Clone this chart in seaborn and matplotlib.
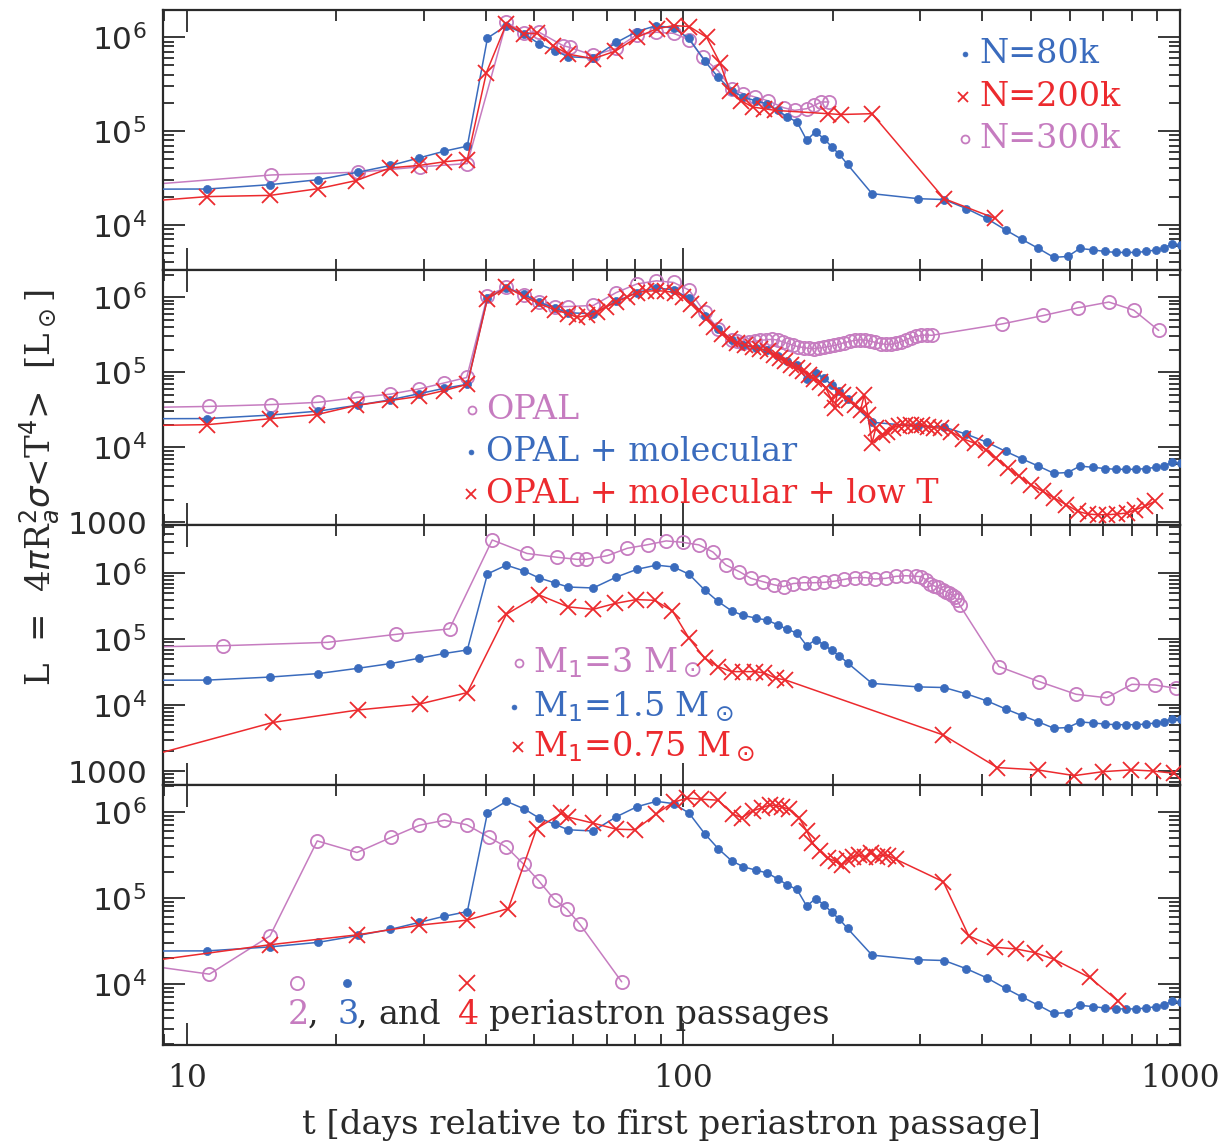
import numpy as np
import matplotlib
matplotlib.use("Agg")
import matplotlib.pyplot as plt
import seaborn as sns
from matplotlib.ticker import FixedLocator, LogLocator, FuncFormatter, NullFormatter

sns.set_style("ticks")
plt.rcParams["font.family"] = ["DejaVu Serif"]
plt.rcParams["mathtext.fontset"] = "dejavuserif"

BLUE = "#3a6bbd"
RED = "#ec2a2e"
PURPLE = "#c67cc0"
DARK = "#2a2a2a"

# ---------------- data (t in days, L in Lsun) ----------------
# reference run: N=80k, OPAL+molecular, M1=1.5 Msun, 3 periastron passages
ref_t = [8.5, 11.0, 14.7, 18.4, 22.1, 25.7, 29.4, 33.0, 36.7, 40.3, 44.0, 47.7, 51.2, 55.0, 58.6,
         65.8, 73.3, 80.6, 88.2, 95.5, 102.6, 110.3, 117.4, 125, 131.9, 139.9, 147.3, 154.9, 161.9,
         169.3, 177.1, 184.5, 191.8, 198.8, 206, 214, 239.7, 297, 335, 371.5, 408, 445.6, 481,
         518.6, 557, 594, 628.7, 669, 706, 742, 778, 816.6, 855, 894, 927, 964, 1004]
ref_L = [2.4e4, 2.41e4, 2.68e4, 3.03e4, 3.64e4, 4.29e4, 5.18e4, 6.1e4, 6.9e4, 9.8e5, 1.33e6, 1.09e6,
         8.5e5, 7.2e5, 6.2e5, 6.0e5, 8.8e5, 1.15e6, 1.33e6, 1.25e6, 9.7e5, 5.6e5, 3.75e5, 2.7e5,
         2.3e5, 2.1e5, 1.95e5, 1.66e5, 1.41e5, 1.25e5, 8.0e4, 9.8e4, 8.3e4, 6.8e4, 5.65e4, 4.4e4,
         2.15e4, 1.9e4, 1.86e4, 1.49e4, 1.17e4, 8.8e3, 6.98e3, 5.6e3, 4.5e3, 4.6e3, 5.6e3, 5.4e3,
         5.2e3, 5.08e3, 5.08e3, 5.08e3, 5.2e3, 5.4e3, 5.6e3, 6.3e3, 6.1e3]

# panel 1: resolution
n200_t = [8.5, 11.0, 14.7, 18.4, 21.9, 25.7, 29.4, 33.0, 36.7, 40.1, 44.0, 47.7, 50.8, 54.6, 58.6,
          65.8, 72.9, 80.7, 88.3, 95.6, 102.7, 111.3, 118.5, 123.9, 130.7, 137.9, 145.4, 153,
          195.3, 207.2, 239.7, 335, 424.6]
n200_L = [1.8e4, 2.0e4, 2.06e4, 2.43e4, 2.96e4, 4.05e4, 4.3e4, 4.7e4, 4.97e4, 4.2e5, 1.39e6, 1.09e6,
          1.1e6, 8.15e5, 6.6e5, 5.9e5, 7.1e5, 1.0e6, 1.23e6, 1.33e6, 1.3e6, 1.0e6, 5.3e5, 2.7e5,
          2.1e5, 1.8e5, 1.73e5, 1.66e5, 1.53e5, 1.5e5, 1.53e5, 1.9e4, 1.17e4]
n300_t = [8.5, 14.8, 22.1, 29.5, 36.7, 44.0, 47.7, 51.2, 57.3, 59.0, 65.8, 73.2, 80.5, 88.2, 95.5,
          102.7, 109.3, 117.4, 125, 131.9, 139.5, 148, 159.2, 167.5, 177, 183.5, 189.5, 196.3]
n300_L = [2.7e4, 3.4e4, 3.64e4, 4.15e4, 4.5e4, 1.45e6, 1.1e6, 1.13e6, 8.1e5, 7.8e5, 6.4e5, 7.6e5,
          1.06e6, 1.13e6, 1.1e6, 9.4e5, 6.1e5, 4.4e5, 2.8e5, 2.5e5, 2.3e5, 2.1e5, 1.77e5, 1.66e5,
          1.73e5, 1.88e5, 2.04e5, 2.04e5]

# panel 2: opacities
opal_t = [8.5, 11.1, 14.8, 18.4, 22.0, 25.7, 29.4, 33.0, 36.6, 40.3, 44.0, 47.7, 51.2, 55.0, 58.6,
          65.8, 73.2, 80.6, 88.2, 95.5, 102.7, 110.3, 117.4,
          125.0, 128.4, 131.9, 135.5, 139.1, 142.9, 146.8, 150.8, 154.9, 158.5, 162.5, 166.3, 170.2,
          174.5, 178.6, 182.8, 187.5, 191.9, 196.3, 201.3, 206.1, 210.9, 216.3, 221.3, 226.5, 232.3,
          237.7, 243.2, 249.4, 255.3, 261.2, 267.9, 274.2, 280.6, 287.7, 294.4, 301.3, 309.0, 316.2,
          438.5, 530.8, 623, 719, 807, 906]
opal_L = [3.4e4, 3.5e4, 3.7e4, 3.97e4, 4.6e4, 5.1e4, 6.0e4, 7.2e4, 8.5e4, 1.05e6, 1.36e6, 1.08e6,
          8.6e5, 7.4e5, 7.5e5, 7.75e5, 1.15e6, 1.5e6, 1.65e6, 1.57e6, 1.24e6, 6.3e5, 3.8e5,
          2.66e5, 2.57e5, 2.48e5, 2.53e5, 2.57e5, 2.66e5, 2.7e5, 2.74e5, 2.68e5, 2.53e5, 2.4e5,
          2.28e5, 2.19e5, 2.13e5, 2.08e5, 2.06e5, 2.1e5, 2.15e5, 2.21e5, 2.28e5, 2.37e5, 2.48e5,
          2.57e5, 2.66e5, 2.7e5, 2.68e5, 2.6e5, 2.5e5, 2.4e5, 2.35e5, 2.35e5, 2.43e5, 2.55e5, 2.7e5,
          2.88e5, 3.0e5, 3.1e5, 3.13e5, 3.1e5,
          4.4e5, 5.7e5, 7.2e5, 8.6e5, 6.7e5, 3.6e5]
lowT_t = [8.5, 11.0, 14.7, 18.3, 21.9, 25.7, 29.4, 33.0, 36.7, 40.3, 44.0, 47.7, 51.2, 55.0, 58.6,
          61.0, 64.0, 67.0, 69.7, 73.3, 76.9, 80.6, 84.2, 88.2, 92.0, 96.0, 100.0, 103.6, 107.4,
          111.3, 115.3, 119.5, 123.9, 128.4, 133.0, 137.9, 142.9, 148.1, 152.0, 156.3, 160.5, 164.8,
          169.3, 173.9, 178.6, 183.5, 188.5, 193.6, 198.9, 201.5, 204.3, 209.7, 215.4, 221.3, 227.3,
          231.3, 235.3, 239.7, 243.9, 250.6, 257.4, 264.4, 271.6, 279.0, 286.6, 294.4, 302.4, 310.6,
          319.1, 330.6, 346.2, 365.5, 385.9, 407.4, 426.2, 449.8, 474.8, 501.3, 529.2, 558.6, 589.7,
          622.5, 651.7, 682.3, 714.3, 747.8, 782.9, 811.9, 849.6, 888.8]
lowT_L = [1.95e4, 2.0e4, 2.4e4, 2.73e4, 3.6e4, 4.2e4, 4.77e4, 5.7e4, 6.9e4, 9.5e5, 1.36e6, 1.02e6,
          8.2e5, 6.8e5, 6.0e5, 5.4e5, 5.7e5, 6.3e5, 7.4e5, 8.6e5, 1.0e6, 1.15e6, 1.2e6, 1.22e6,
          1.2e6, 1.15e6, 1.02e6, 8.2e5, 6.7e5, 5.2e5, 4.0e5, 3.26e5, 2.8e5, 2.48e5, 2.33e5, 2.17e5,
          2.06e5, 1.9e5, 1.72e5, 1.55e5, 1.4e5, 1.24e5, 1.12e5, 1.03e5, 9.3e4, 8.2e4, 7.4e4, 6.1e4,
          4.25e4, 3.3e4, 5.5e4, 5.0e4, 4.25e4, 3.65e4, 3.1e4, 5.0e4, 2.68e4, 1.13e4, 1.79e4, 1.46e4,
          1.61e4, 1.82e4, 1.94e4, 1.98e4, 1.98e4, 1.94e4, 1.98e4, 1.88e4, 1.82e4, 1.79e4, 1.61e4,
          1.3e4, 1.13e4, 9.2e3, 7.1e3, 5.3e3, 4.1e3, 3.16e3, 2.58e3, 2.1e3, 1.72e3, 1.4e3, 1.29e3,
          1.26e3, 1.26e3, 1.29e3, 1.33e3, 1.47e3, 1.63e3, 1.9e3]

# panel 3: primary mass
m3_t = [8.5, 11.8, 19.2, 26.4, 33.8, 41.2, 48.4, 55.7, 61.0, 63.5, 70.1, 77.1, 84.8, 92.3, 99.6,
        107.4, 114.7, 121.7, 129.6, 136.7, 144.3, 152.2, 159.2, 166.3, 174.5, 182.8, 191.9, 201.3,
        210.9, 221.3, 232.3, 243.2, 255.3, 267.9, 280.6, 294.4, 301.3, 308, 314, 319, 326, 333,
        338, 342, 347, 351.5, 356, 360, 432, 521, 617.6, 712, 800, 891, 982]
m3_L = [7.7e4, 8.0e4, 9.0e4, 1.19e5, 1.44e5, 3.2e6, 2.0e6, 1.75e6, 1.63e6, 1.63e6, 1.84e6, 2.4e6,
        2.72e6, 3.1e6, 2.95e6, 2.7e6, 2.1e6, 1.34e6, 1.06e6, 8.4e5, 7.5e5, 6.7e5, 6.3e5, 7.0e5,
        7.2e5, 7.2e5, 7.3e5, 7.6e5, 8.1e5, 8.6e5, 8.6e5, 8.2e5, 8.4e5, 9.0e5, 9.2e5, 9.0e5, 8.9e5,
        8.0e5, 7.0e5, 6.5e5, 6.1e5, 5.6e5, 5.3e5, 5.0e5, 4.7e5, 4.4e5, 3.9e5, 3.3e5, 3.86e4, 2.28e4,
        1.47e4, 1.3e4, 2.08e4, 2.03e4, 1.81e4]
m075_t = [8.5, 14.9, 22.1, 29.5, 36.7, 44.0, 51.2, 58.6, 65.8, 72.9, 80.3, 87.5, 95.0, 102.5, 110.3,
          117.4, 125, 131.9, 139.1, 145.4, 153.5, 160.5, 333.6, 428.5, 516.6, 612.6, 699.7, 797,
          883, 973]
m075_L = [1.75e3, 5.5e3, 8.5e3, 1.05e4, 1.56e4, 2.4e5, 4.7e5, 3.1e5, 2.85e5, 3.5e5, 4.0e5, 3.9e5,
          2.7e5, 1.05e5, 5.2e4, 3.86e4, 3.24e4, 3.24e4, 3.24e4, 3.1e4, 2.57e4, 2.42e4, 3.55e3,
          1.14e3, 1.05e3, 860, 988, 1.05e3, 1.01e3, 933]

# panel 4: number of periastron passages
p2_t = [8.5, 11.1, 14.7, 18.3, 22.0, 25.8, 29.4, 33.0, 36.6, 40.5, 44.0, 47.7, 51.2, 55.0, 58.2,
        61.9, 75.1]
p2_L = [1.6e4, 1.29e4, 3.6e4, 4.6e5, 3.37e5, 5.07e5, 7.0e5, 8.0e5, 7.1e5, 5.1e5, 3.9e5, 2.45e5,
        1.56e5, 9.5e4, 7.4e4, 4.9e4, 1.05e4]
p4_t = [8.5, 14.7, 22.0, 29.4, 36.7, 44.4, 50.6, 56.8, 58.6, 65.8, 73.2, 80.0, 88.2, 95.5, 101.8,
        108.4, 117.4, 125.9, 131.1, 137.9, 144.1, 149.4, 153.5, 157.6, 163.3, 170.9, 177.1, 181.9,
        188.5, 195.3, 202.6, 208.2, 213.9, 219.8, 225.8, 232, 238.4, 245, 251.8, 258.7, 268.1,
        333.6, 375.4, 424.6, 467, 510, 556.5, 657.7, 751]
p4_L = [1.85e4, 2.84e4, 3.7e4, 4.8e4, 5.5e4, 7.5e4, 6.4e5, 9.6e5, 8.7e5, 7.4e5, 6.3e5, 6.2e5, 9.5e5,
        1.3e6, 1.45e6, 1.41e6, 1.37e6, 9.4e5, 8.6e5, 1.03e6, 1.12e6, 1.21e6, 1.18e6, 1.15e6,
        1.07e6, 8.6e5, 6.0e5, 4.35e5, 3.5e5, 2.9e5, 2.65e5, 2.4e5, 2.8e5, 3.0e5, 3.15e5, 3.0e5,
        3.3e5, 3.0e5, 3.15e5, 3.1e5, 2.8e5, 1.54e5, 3.6e4, 2.65e4, 2.54e4, 2.3e4, 1.93e4, 1.18e4,
        6.25e3]

x_ticks = [10, 100, 1000]
x_tick_labels = ["10", "100", "1000"]
y_limits = [(3.3e3, 1.95e6), (920, 2.3e6), (620, 5.4e6), (1.93e3, 2.06e6)]
y_ticks = [[1e4, 1e5, 1e6], [1e3, 1e4, 1e5, 1e6], [1e3, 1e4, 1e5, 1e6], [1e4, 1e5, 1e6]]

# ---------------- figure ----------------
W, H = 1228, 1144
fig = plt.figure(figsize=(W / 100, H / 100), dpi=100)
left, right = 163, 1180
edges = [10, 270, 525, 785, 1045]

STYLE = {
    "dot": dict(color=BLUE, marker="o", markersize=5.8, markerfacecolor=BLUE,
                markeredgecolor=BLUE, markeredgewidth=0.5),
    "x": dict(color=RED, marker="x", markersize=11, markeredgecolor=RED, markeredgewidth=1.3),
    "o": dict(color=PURPLE, marker="o", markersize=9.5, markerfacecolor="none",
              markeredgecolor=PURPLE, markeredgewidth=1.3),
}


def ylab(v, pos):
    if v == 1000:
        return r"$\mathdefault{1000}$"
    e = int(round(np.log10(v)))
    return r"$\mathdefault{10^{%d}}$" % e


axes = []
for i in range(4):
    ax = fig.add_axes([left / W, 1 - edges[i + 1] / H, (right - left) / W,
                       (edges[i + 1] - edges[i]) / H])
    ax.set_xscale("log")
    ax.set_yscale("log")
    axes.append(ax)


def draw(ax, t, L, kind, z):
    sns.lineplot(x=t, y=L, ax=ax, sort=False, estimator=None, lw=1.1, zorder=z,
                 legend=False, **STYLE[kind])


draw(axes[0], ref_t, ref_L, "dot", 3)
draw(axes[0], n200_t, n200_L, "x", 4)
draw(axes[0], n300_t, n300_L, "o", 2)

draw(axes[1], opal_t, opal_L, "o", 2)
draw(axes[1], ref_t, ref_L, "dot", 3)
draw(axes[1], lowT_t, lowT_L, "x", 4)

draw(axes[2], m3_t, m3_L, "o", 2)
draw(axes[2], ref_t, ref_L, "dot", 3)
draw(axes[2], m075_t, m075_L, "x", 4)

draw(axes[3], p2_t, p2_L, "o", 2)
draw(axes[3], ref_t, ref_L, "dot", 3)
draw(axes[3], p4_t, p4_L, "x", 4)

TICK_FS = 22.5
for i, ax in enumerate(axes):
    ax.set_xlim(8.95, 1000)
    ax.set_ylim(*y_limits[i])
    ax.set_xlabel("")
    ax.set_ylabel("")
    ax.xaxis.set_major_locator(FixedLocator(x_ticks))
    ax.xaxis.set_minor_locator(LogLocator(base=10, subs=np.arange(2, 10)))
    ax.xaxis.set_minor_formatter(NullFormatter())
    ax.yaxis.set_major_locator(FixedLocator(y_ticks[i]))
    ax.yaxis.set_minor_locator(LogLocator(base=10, subs=np.arange(2, 10), numticks=20))
    ax.yaxis.set_minor_formatter(NullFormatter())
    ax.tick_params(which="both", direction="in", top=True, right=True, width=1.3, color=DARK)
    ax.tick_params(which="major", length=16)
    ax.tick_params(which="minor", length=8)
    ax.tick_params(axis="y", which="major", pad=12, labelsize=TICK_FS, labelcolor=DARK)
    if i < 3:
        ax.tick_params(axis="x", labelbottom=False)
    else:
        ax.set_xticklabels(x_tick_labels)
        ax.tick_params(axis="x", which="major", pad=13, labelsize=TICK_FS, labelcolor=DARK)
    for s in ax.spines.values():
        s.set_linewidth(1.6)
        s.set_color(DARK)

plt.rcParams["mathtext.fontset"] = "dejavusans"
for ax in axes:
    ax.yaxis.set_major_formatter(FuncFormatter(ylab))
    for lab in ax.get_yticklabels():
        lab.set_family("DejaVu Sans")

FS = 24


def legend_row(ax, mx, tx, y, kind, text, color, ms_scale=0.6):
    st = dict(STYLE[kind])
    st.pop("color")
    st["markersize"] = st["markersize"] * ms_scale
    ax.plot([mx], [y], transform=ax.transAxes, linestyle="none", clip_on=False, **st)
    ax.text(tx, y, text, transform=ax.transAxes, color=color, fontsize=FS,
            va="center", ha="left", family="DejaVu Serif")


# panel 1 legend
legend_row(axes[0], 0.789, 0.803, 0.83, "dot", "N=80k", BLUE)
legend_row(axes[0], 0.787, 0.803, 0.665, "x", "N=200k", RED)
legend_row(axes[0], 0.789, 0.803, 0.505, "o", "N=300k", PURPLE)

# panel 2 legend
legend_row(axes[1], 0.304, 0.318, 0.451, "o", "OPAL", PURPLE)
legend_row(axes[1], 0.303, 0.318, 0.285, "dot", "OPAL + molecular", BLUE)
legend_row(axes[1], 0.303, 0.318, 0.12, "x", "OPAL + molecular + low T", RED)

# panel 3 legend
legend_row(axes[2], 0.350, 0.364, 0.47, "o", r"M$_1$=3 M$_\odot$", PURPLE)
legend_row(axes[2], 0.345, 0.364, 0.30, "dot", r"M$_1$=1.5 M$_\odot$", BLUE)
legend_row(axes[2], 0.349, 0.364, 0.145, "x", r"M$_1$=0.75 M$_\odot$", RED)

# panel 4 legend
ax4 = axes[3]
for mx, kind in [(0.132, "o"), (0.181, "dot"), (0.299, "x")]:
    st = dict(STYLE[kind])
    st.pop("color")
    ax4.plot([mx], [0.238], transform=ax4.transAxes, linestyle="none", clip_on=False, **st)
pieces = [(0.123, "2", PURPLE), (0.142, ",", DARK), (0.172, "3", BLUE), (0.191, ",", DARK),
          (0.212, "and", DARK), (0.290, "4", RED), (0.321, "periastron passages", DARK)]
for px, s, c in pieces:
    ax4.text(px, 0.115, s, transform=ax4.transAxes, color=c, fontsize=FS, va="center",
             ha="left", family="DejaVu Serif")

# axis labels
fig.text(671 / W, 1 - 1125 / H, "t [days relative to first periastron passage]",
         ha="center", va="center", fontsize=24.5, color=DARK, family="DejaVu Serif")
fig.text(40 / W, 1 - 488 / H, r"L  =  4$\pi$R$_a^2\sigma$<T$^4$>  [L$_\odot$]",
         ha="center", va="center", rotation=90, fontsize=24.5, color=DARK,
         family="DejaVu Serif")

fig.savefig("out.png", dpi=100)
